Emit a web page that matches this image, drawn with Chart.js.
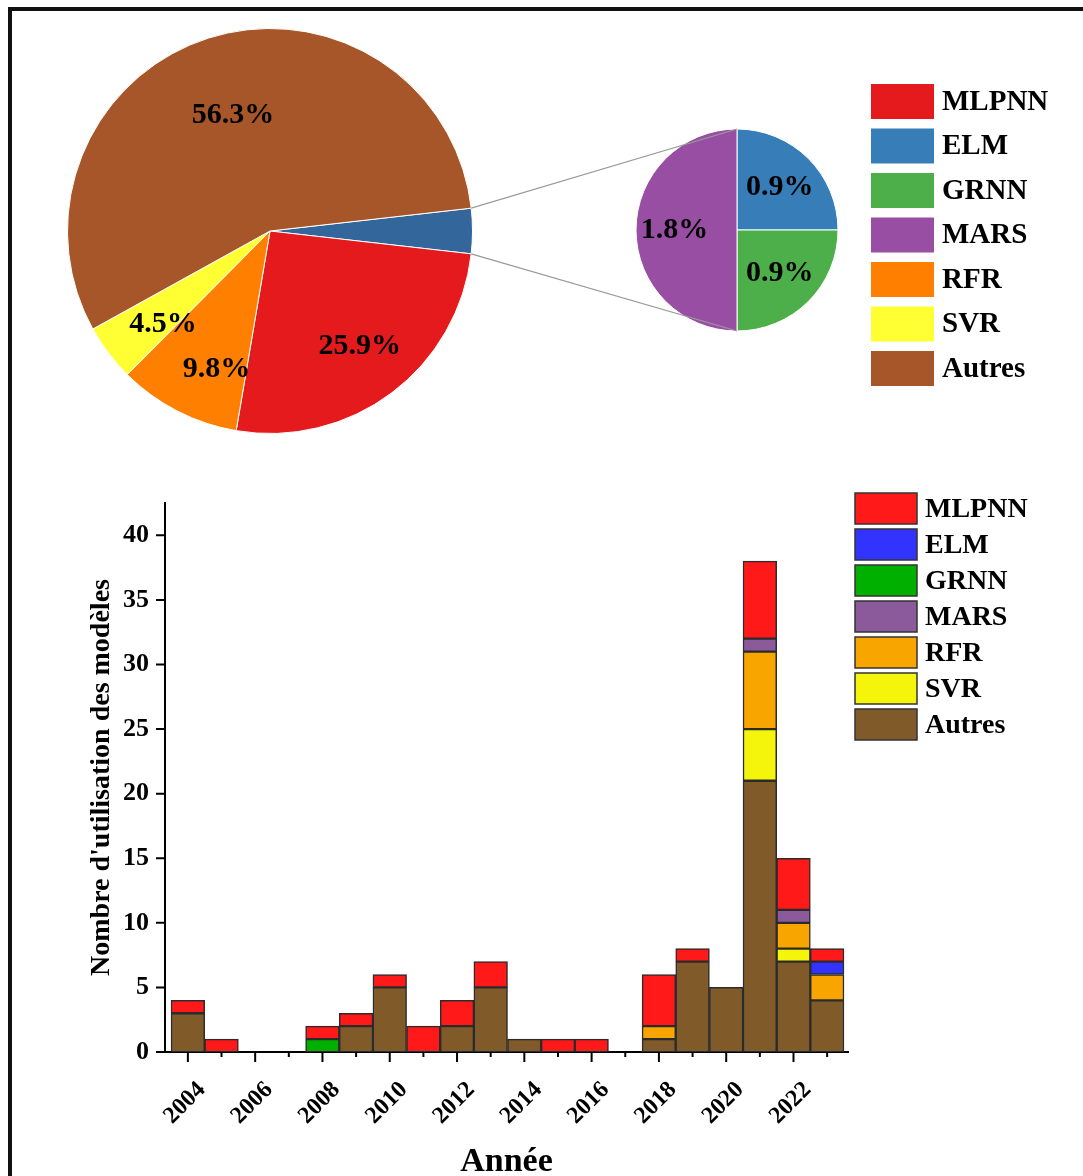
<!DOCTYPE html>
<html lang="fr">
<head>
<meta charset="utf-8">
<title>Utilisation des modèles</title>
<script src="https://cdn.jsdelivr.net/npm/chart.js@4.4.1/dist/chart.umd.min.js"></script>
<style>
  html, body { margin: 0; padding: 0; background: #fff; }
  #page { position: relative; width: 1083px; height: 1176px; overflow: hidden; }
  #frame { position: absolute; left: 8px; top: 7px; width: 1200px; height: 1300px;
           border-top: 4px solid #111; border-left: 4px solid #111; }
  canvas { position: absolute; }
  #mainPie { left: 67px; top: 28px; }
  #zoomPie { left: 600px; top: 20px; }
  #barChart { left: 20px; top: 470px; }
  #links { left: 0; top: 0; pointer-events: none; }
</style>
</head>
<body>
<div id="page">
  <div id="frame"></div>
  <canvas id="mainPie" width="406" height="406"></canvas>
  <canvas id="zoomPie" width="483" height="420"></canvas>
  <canvas id="barChart" width="1063" height="706"></canvas>
  <canvas id="links" width="1083" height="1176"></canvas>
</div>

<script>
// Modèles (légende)
const models = ['MLPNN', 'ELM', 'GRNN', 'MARS', 'RFR', 'SVR', 'Autres'];
const pieColors = ['#e41a1c', '#377eb8', '#4daf4a', '#984ea3', '#ff7f00', '#ffff33', '#a65628'];
const barColors = ['#ff1919', '#3333ff', '#00b000', '#8b5a9b', '#f8a500', '#f5f50c', '#805a28'];

// Camembert principal (ELM + GRNN + MARS regroupés)
const mainLabels = ['ELM + GRNN + MARS', 'MLPNN', 'RFR', 'SVR', 'Autres'];
const mainValues = [3.6, 25.9, 9.8, 4.5, 56.3];
const mainColors = ['#33669a', '#e41a1c', '#ff7f00', '#ffff33', '#a65628'];

// Camembert détaillé
const zoomLabels = ['ELM', 'GRNN', 'MARS'];
const zoomValues = [0.9, 0.9, 1.8];
const zoomColors = ['#377eb8', '#4daf4a', '#984ea3'];

// Histogramme empilé par année
const years  = [2004, 2005, 2006, 2007, 2008, 2009, 2010, 2011, 2012, 2013,
                2014, 2015, 2016, 2017, 2018, 2019, 2020, 2021, 2022, 2023];
const mlpnn  = [1, 1, 0, 0, 1, 1, 1, 2, 2, 2, 0, 1, 1, 0, 4, 1, 0, 6, 4, 1];
const elm    = [0, 0, 0, 0, 0, 0, 0, 0, 0, 0, 0, 0, 0, 0, 0, 0, 0, 0, 0, 1];
const grnn   = [0, 0, 0, 0, 1, 0, 0, 0, 0, 0, 0, 0, 0, 0, 0, 0, 0, 0, 0, 0];
const mars   = [0, 0, 0, 0, 0, 0, 0, 0, 0, 0, 0, 0, 0, 0, 0, 0, 0, 1, 1, 0];
const rfr    = [0, 0, 0, 0, 0, 0, 0, 0, 0, 0, 0, 0, 0, 0, 1, 0, 0, 6, 2, 2];
const svr    = [0, 0, 0, 0, 0, 0, 0, 0, 0, 0, 0, 0, 0, 0, 0, 0, 0, 4, 1, 0];
const autres = [3, 0, 0, 0, 0, 2, 5, 0, 2, 5, 1, 0, 0, 0, 1, 7, 5, 21, 7, 4];

Chart.defaults.font.family = "'Liberation Serif', 'Times New Roman', serif";
Chart.defaults.font.weight = 'bold';
Chart.defaults.color = '#000';

// pourcentages sur les parts
const pctLabels = {
    id: 'pctLabels',
    afterDatasetsDraw(chart, args, opts) {
        const ctx = chart.ctx;
        const values = chart.data.datasets[0].data;
        ctx.save();
        ctx.font = opts.font;
        ctx.fillStyle = '#000';
        ctx.textAlign = 'center';
        ctx.textBaseline = 'middle';
        chart.getDatasetMeta(0).data.forEach((arc, i) => {
            const f = opts.radial[i];
            if (!f) return;
            const mid = (arc.startAngle + arc.endAngle) / 2 + (opts.turn ? opts.turn[i] : 0) * Math.PI / 180;
            const r = arc.outerRadius * f;
            ctx.fillText(values[i].toFixed(1) + '%', arc.x + Math.cos(mid) * r, arc.y + Math.sin(mid) * r);
        });
        ctx.restore();
    }
};

// légende à côté (boîtes + texte)
const sideLegend = {
    id: 'sideLegend',
    afterDraw(chart, args, opts) {
        const ctx = chart.ctx;
        ctx.save();
        ctx.font = opts.font;
        ctx.textBaseline = 'middle';
        opts.labels.forEach((label, i) => {
            const y = opts.y + i * opts.step;
            ctx.fillStyle = opts.colors[i];
            ctx.fillRect(opts.x, y, opts.boxW, opts.boxH);
            if (opts.border) {
                ctx.strokeStyle = opts.border;
                ctx.lineWidth = 1.5;
                ctx.strokeRect(opts.x, y, opts.boxW, opts.boxH);
            }
            ctx.fillStyle = '#000';
            ctx.fillText(label, opts.x + opts.boxW + 8, y + opts.boxH / 2 + 1);
        });
        ctx.restore();
    }
};

// Chart 1 - camembert principal
const mainChart = new Chart(document.getElementById('mainPie'), {
    type: 'pie',
    data: {
        labels: mainLabels,
        datasets: [{ data: mainValues, backgroundColor: mainColors, borderColor: '#fff', borderWidth: 1 }]
    },
    options: {
        responsive: false,
        animation: false,
        rotation: 90 - (mainValues[0] / mainValues.reduce((a, b) => a + b, 0)) * 180,
        plugins: {
            legend: { display: false },
            tooltip: { enabled: false },
            pctLabels: {
                font: "bold 30px 'Liberation Serif'",
                radial: [0, 0.72, 0.73, 0.7, 0.6],
                turn: [0, -1, -6, -4, 0]
            }
        }
    },
    plugins: [pctLabels]
});

// traits entre les deux camemberts
const links = {
    id: 'links',
    afterDraw(chart) {
        const ctx = document.getElementById('links').getContext('2d');
        const a = mainChart.getDatasetMeta(0).data[0];
        const s = chart.getDatasetMeta(0).data[0];
        const o1 = mainChart.canvas.getBoundingClientRect();
        const o2 = chart.canvas.getBoundingClientRect();
        const r = a.outerRadius;
        ctx.clearRect(0, 0, 1083, 1176);
        ctx.strokeStyle = '#9a9a9a';
        ctx.lineWidth = 1.2;
        ctx.beginPath();
        ctx.moveTo(o1.left + a.x + Math.cos(a.startAngle) * r, o1.top + a.y + Math.sin(a.startAngle) * r);
        ctx.lineTo(o2.left + s.x, o2.top + s.y - s.outerRadius);
        ctx.moveTo(o1.left + a.x + Math.cos(a.endAngle) * r, o1.top + a.y + Math.sin(a.endAngle) * r);
        ctx.lineTo(o2.left + s.x, o2.top + s.y + s.outerRadius);
        ctx.stroke();
    }
};

// Chart 2 - détail ELM / GRNN / MARS
new Chart(document.getElementById('zoomPie'), {
    type: 'pie',
    data: {
        labels: zoomLabels,
        datasets: [{ data: zoomValues, backgroundColor: zoomColors, borderColor: '#fff', borderWidth: 1 }]
    },
    options: {
        responsive: false,
        animation: false,
        radius: 101,
        layout: { padding: { left: 0, right: 209, top: 0, bottom: 0 } },
        plugins: {
            legend: { display: false },
            tooltip: { enabled: false },
            pctLabels: { font: "bold 30px 'Liberation Serif'", radial: [0.6, 0.6, 0.62] },
            sideLegend: {
                labels: models, colors: pieColors,
                x: 271, y: 64, step: 44.5, boxW: 63, boxH: 35,
                font: "bold 29px 'Liberation Serif'"
            }
        }
    },
    plugins: [pctLabels, sideLegend, links]
});

// petites graduations des axes
const tickMarks = {
    id: 'tickMarks',
    afterDraw(chart) {
        const { ctx, chartArea, scales: { x, y } } = chart;
        ctx.save();
        ctx.strokeStyle = '#000';
        ctx.lineWidth = 2;
        ctx.beginPath();
        y.ticks.forEach(t => {
            const py = y.getPixelForValue(t.value);
            const len = t.value % 5 === 0 ? 9 : 5;
            ctx.moveTo(chartArea.left - len, py);
            ctx.lineTo(chartArea.left, py);
        });
        x.ticks.forEach(t => {
            const px = x.getPixelForValue(t.value);
            const len = t.value % 2 === 0 ? 10 : 5;
            ctx.moveTo(px, chartArea.bottom);
            ctx.lineTo(px, chartArea.bottom + len);
        });
        ctx.stroke();
        ctx.restore();
    }
};

// Chart 3 - utilisation des modèles par année
const series = [autres, svr, rfr, mars, grnn, elm, mlpnn];
const seriesNames = ['Autres', 'SVR', 'RFR', 'MARS', 'GRNN', 'ELM', 'MLPNN'];
const seriesColors = [barColors[6], barColors[5], barColors[4], barColors[3], barColors[2], barColors[1], barColors[0]];

new Chart(document.getElementById('barChart'), {
    type: 'bar',
    data: {
        labels: years,
        datasets: series.map((d, i) => ({
            label: seriesNames[i],
            data: d,
            backgroundColor: seriesColors[i],
            borderColor: '#2b2b2b',
            borderWidth: 1.5,
            borderSkipped: false,
            barPercentage: 1,
            categoryPercentage: 1
        }))
    },
    options: {
        responsive: false,
        animation: false,
        layout: { padding: { top: 33, right: 235, bottom: 0, left: 0 } },
        scales: {
            x: {
                type: 'linear',
                stacked: true,
                offset: false,
                min: 2003.32,
                max: 2023.62,
                afterFit: s => { s.height = 124; },
                grid: { display: false },
                border: { display: true, color: '#000', width: 2 },
                ticks: {
                    stepSize: 1,
                    includeBounds: false,
                    autoSkip: false,
                    minRotation: 45,
                    maxRotation: 45,
                    padding: 16,
                    labelOffset: 14,
                    font: { size: 24 },
                    callback: v => v % 2 === 0 ? String(v) : ''
                },
                title: { display: true, text: 'Année', font: { size: 34, lineHeight: 0.8 }, padding: { top: 0, bottom: 0 } }
            },
            y: {
                stacked: true,
                min: 0,
                max: 42.5,
                afterFit: s => { s.width = 145; },
                grid: { display: false },
                border: { display: true, color: '#000', width: 2 },
                ticks: {
                    stepSize: 2.5,
                    includeBounds: false,
                    padding: 8,
                    font: { size: 26 },
                    callback: v => v % 5 === 0 ? String(v) : ''
                },
                title: {
                    display: true,
                    text: "Nombre d'utilisation des modèles",
                    font: { size: 28 },
                    padding: { top: 65, bottom: 0 }
                }
            }
        },
        plugins: {
            legend: { display: false },
            tooltip: { enabled: false },
            sideLegend: {
                labels: models, colors: barColors, border: '#333',
                x: 835, y: 23, step: 36, boxW: 62, boxH: 31,
                font: "bold 28px 'Liberation Serif'"
            }
        }
    },
    plugins: [tickMarks, sideLegend]
});
</script>
</body>
</html>
